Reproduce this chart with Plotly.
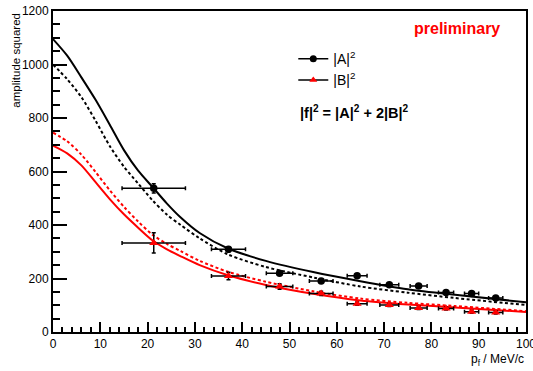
import plotly.graph_objects as go

# ---- data points ----
p_f = [21.3, 37.1, 47.9, 56.7, 64.3, 71.1, 77.3, 83.1, 88.5, 93.6]
p_f_err = [6.7, 3.6, 2.8, 2.5, 2.1, 2.0, 1.8, 1.6, 1.5, 1.5]
A2 = [537, 309, 220, 191, 210, 177, 172, 148, 144, 127]
A2_err = [17, 10, 8, 8, 8, 6, 6, 6, 6, 6]
B2 = [333, 209, 170, 144, 106, 101, 90, 88, 76, 73]
B2_err = [38, 14, 10, 8, 6, 6, 6, 6, 6, 6]

# ---- fit curves ----
curve_x = [0, 3, 6, 9, 12, 15, 18, 21, 24, 27, 31, 37, 45, 55, 65, 75, 85, 100]
A_solid = [1095, 1033, 952, 868, 775, 680, 603, 543, 482, 428, 370, 312, 266, 224, 190, 160, 139, 111]
A_dash = [1000, 945, 878, 790, 695, 618, 555, 493, 440, 400, 350, 290, 243, 204, 170, 147, 127, 101]
B_solid = [697, 668, 623, 560, 497, 440, 390, 343, 310, 283, 250, 212, 176, 143, 118, 103, 92, 75]
B_dash = [745, 713, 663, 598, 530, 468, 413, 364, 330, 302, 266, 225, 188, 152, 125, 109, 97, 78]

FONT = "Liberation Sans, Arial, Helvetica, sans-serif"

fig = go.Figure()

for ys, col, dash in [(A_solid, "black", "solid"), (A_dash, "black", "3px,2.5px"),
                      (B_solid, "red", "solid"), (B_dash, "red", "3px,2.5px")]:
    fig.add_trace(go.Scatter(x=curve_x, y=ys, mode="lines",
                             line=dict(color=col, width=2, dash=dash, shape="spline", smoothing=0.8),
                             showlegend=False, hoverinfo="skip"))

fig.add_trace(go.Scatter(x=p_f, y=A2, mode="markers", showlegend=False,
                         marker=dict(symbol="circle", size=7.5, color="black"),
                         error_x=dict(type="data", array=p_f_err, color="black", thickness=1.5, width=2),
                         error_y=dict(type="data", array=A2_err, color="black", thickness=1.5, width=2)))
fig.add_trace(go.Scatter(x=p_f, y=B2, mode="markers", showlegend=False,
                         marker=dict(symbol="triangle-up", size=8, color="red"),
                         error_x=dict(type="data", array=p_f_err, color="black", thickness=1.5, width=2),
                         error_y=dict(type="data", array=B2_err, color="black", thickness=1.5, width=2)))

# legend entries
fig.add_trace(go.Scatter(x=[None], y=[None], mode="lines+markers", name="|A|<sup>2</sup>",
                         line=dict(color="black", width=1.5), marker=dict(symbol="circle", size=7, color="black")))
fig.add_trace(go.Scatter(x=[None], y=[None], mode="lines+markers", name="|B|<sup>2</sup>",
                         line=dict(color="black", width=1.5), marker=dict(symbol="triangle-up", size=7, color="red")))

fig.update_layout(
    width=533, height=371,
    margin=dict(l=53, r=7, t=11, b=39, autoexpand=False),
    paper_bgcolor="white", plot_bgcolor="white",
    font=dict(family=FONT, size=11, color="black"),
    showlegend=True,
    legend=dict(x=0.508, y=0.9, xanchor="left", yanchor="top", bgcolor="rgba(0,0,0,0)",
                font=dict(size=14, family=FONT), itemwidth=30, tracegroupgap=0),
    xaxis=dict(range=[0, 100], showgrid=False, zeroline=False, showline=True, linecolor="black", linewidth=2,
               mirror=True, ticks="inside", ticklen=10, tickwidth=1.5, tickcolor="black", dtick=10,
               ticklabeloverflow="allow", automargin=False,
               tickfont=dict(size=12), minor=dict(ticks="inside", ticklen=5, dtick=2, tickcolor="black", tickwidth=1.5)),
    yaxis=dict(range=[0, 1200], showgrid=False, zeroline=False, showline=True, linecolor="black", linewidth=2,
               mirror=True, ticks="inside", ticklen=14, tickwidth=1.5, tickcolor="black", dtick=200,
               ticklabeloverflow="allow", automargin=False,
               tickfont=dict(size=12), minor=dict(ticks="inside", ticklen=7, dtick=50, tickcolor="black", tickwidth=1.5)),
)

fig.add_annotation(xref="paper", yref="paper", x=-0.08, y=1.0, xanchor="center", yanchor="top",
                   text="amplitude squared", textangle=-90, showarrow=False, font=dict(size=11.5, family=FONT))
fig.add_annotation(xref="paper", yref="paper", x=1.0, y=-0.055, xanchor="right", yanchor="top",
                   text="p<sub>f</sub> / MeV/c", showarrow=False, font=dict(size=12, family=FONT))
fig.add_annotation(xref="paper", yref="paper", x=0.95, y=0.945, xanchor="right", yanchor="middle",
                   text="<b>preliminary</b>", showarrow=False, font=dict(size=16, color="red", family=FONT))
fig.add_annotation(xref="paper", yref="paper", x=0.518, y=0.685, xanchor="left", yanchor="middle",
                   text="<b>|f|<sup>2</sup> = |A|<sup>2</sup> + 2|B|<sup>2</sup></b>", showarrow=False,
                   font=dict(size=14.5, family=FONT))

fig.write_html("out.html", config={"displayModeBar": False},
               post_script="document.body.style.margin='0';document.body.style.overflow='hidden';")
